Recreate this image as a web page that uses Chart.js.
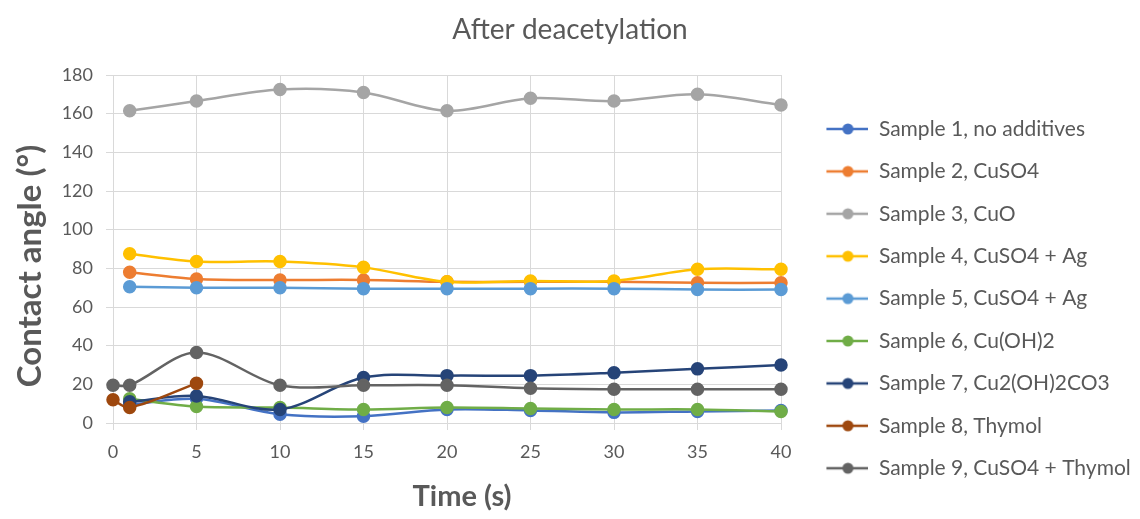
<!DOCTYPE html>
<html>
<head>
<meta charset="utf-8">
<title>After deacetylation</title>
<script src="https://cdn.jsdelivr.net/npm/chart.js@4/dist/chart.umd.min.js"></script>
<style>
  html, body { margin: 0; padding: 0; background: #fff; }
  #wrap { width: 1140px; height: 519px; position: relative; }
</style>
</head>
<body>
<div id="wrap"><canvas id="angleChart"></canvas></div>
<script>
// time points (s)
var times = [1, 5, 10, 15, 20, 25, 30, 35, 40];
var times8 = [0, 1, 5];
var times9 = [0, 1, 5, 10, 15, 20, 25, 30, 35, 40];

var sampleNames = [
    "Sample 1, no additives",
    "Sample 2, CuSO4",
    "Sample 3, CuO",
    "Sample 4, CuSO4 + Ag",
    "Sample 5, CuSO4 + Ag",
    "Sample 6, Cu(OH)2",
    "Sample 7, Cu2(OH)2CO3",
    "Sample 8, Thymol",
    "Sample 9, CuSO4 + Thymol"
];

// contact angle (deg)
var sample1 = [9.5, 12.5, 4.5, 3.5, 7, 6.5, 5.5, 6, 6.5];
var sample2 = [78, 74.5, 74, 74, 73, 73, 73, 72.5, 72.5];
var sample3 = [161.5, 166.5, 172.5, 171, 161.5, 168, 166.5, 170, 164.5];
var sample4 = [87.5, 83.5, 83.5, 80.5, 73, 73.5, 73.5, 79.5, 79.5];
var sample5 = [70.5, 70, 70, 69.5, 69.5, 69.5, 69.5, 69, 69];
var sample6 = [12.5, 8.5, 8, 7, 8, 7.5, 7, 7, 6];
var sample7 = [11, 14, 7, 23.5, 24.5, 24.5, 26, 28, 30];
var sample8 = [12, 8, 20.5];
var sample9 = [19.5, 19.5, 36.5, 19.5, 19.5, 19.5, 18, 17.5, 17.5, 17.5];

var colors = ["#4472C4", "#ED7D31", "#A5A5A5", "#FFC000", "#5B9BD5",
              "#70AD47", "#264478", "#9E480E", "#636363"];

var seriesValues = [sample1, sample2, sample3, sample4, sample5, sample6, sample7, sample8, sample9];
var seriesTimes = [times, times, times, times, times, times, times, times8, times9];

var xTitle = 'Time (s)';
var yTitle = 'Contact angle (°)';

var textColor = "#595959";
var gridColor = "#d9d9d9";

function toPoints(xs, ys) {
    var pts = [];
    for (var i = 0; i < ys.length; i++) {
        pts.push({x: xs[i], y: ys[i]});
    }
    return pts;
}

// little line + marker symbol for the legend
function makeLegendIcon(color) {
    var c = document.createElement('canvas');
    c.width = 66;
    c.height = 14;
    var g = c.getContext('2d');
    g.strokeStyle = color;
    g.lineWidth = 2.5;
    g.beginPath();
    g.moveTo(24, 7);
    g.lineTo(66, 7);
    g.stroke();
    g.fillStyle = color;
    g.beginPath();
    g.arc(45.5, 7, 5.5, 0, Math.PI * 2);
    g.fill();
    return c;
}

var legendIcons = colors.map(makeLegendIcon);

// axis titles sit a bit off the plot centre in the original, so draw them here
var axisTitles = {
    id: 'axisTitles',
    afterDraw: function (chart) {
        var a = chart.chartArea;
        var c = chart.ctx;
        c.save();
        c.fillStyle = textColor;
        c.textAlign = 'center';
        c.textBaseline = 'middle';
        c.font = "bold 33px Lato, 'Open Sans', sans-serif";
        c.translate(30, (a.top + a.bottom) / 2 + 17);
        c.rotate(-Math.PI / 2);
        c.fillText(yTitle, 0, 0);
        c.restore();

        c.save();
        c.fillStyle = textColor;
        c.textAlign = 'center';
        c.textBaseline = 'middle';
        c.font = "bold 29px Lato, 'Open Sans', sans-serif";
        c.fillText(xTitle, (a.left + a.right) / 2 + 15, 497);
        c.restore();
    }
};

var datasets = [];
seriesValues.forEach(function (vals, i) {
    datasets.push({
        label: sampleNames[i],
        data: toPoints(seriesTimes[i], vals),
        borderColor: colors[i],
        backgroundColor: colors[i],
        pointBackgroundColor: colors[i],
        pointBorderColor: colors[i],
        borderWidth: 2.5,
        pointRadius: 5.5,
        pointHoverRadius: 5.5,
        tension: 0.33,
        clip: false,
        order: 9 - i
    });
});

Chart.defaults.font.family = "Lato, 'Open Sans', sans-serif";
Chart.defaults.color = textColor;

var ctx = document.getElementById('angleChart').getContext('2d');

var angleChart = new Chart(ctx, {
    type: 'line',
    data: { datasets: datasets },
    plugins: [axisTitles],
    options: {
        responsive: true,
        maintainAspectRatio: false,
        animation: false,
        layout: { padding: 0 },
        plugins: {
            title: {
                display: true,
                text: 'After deacetylation',
                color: textColor,
                font: { size: 28, weight: 'normal' },
                padding: { top: 13, bottom: 28.4 }
            },
            legend: {
                position: 'right',
                align: 'start',
                maxWidth: 359,
                title: {
                    display: true,
                    text: ' ',
                    font: { size: 12 },
                    padding: { top: 82.7, bottom: 0 }
                },
                labels: {
                    usePointStyle: true,
                    pointStyleWidth: 66,
                    padding: 21.4,
                    color: textColor,
                    font: { size: 21 },
                    sort: function (a, b) { return a.datasetIndex - b.datasetIndex; },
                    generateLabels: function (chart) {
                        var items = Chart.defaults.plugins.legend.labels.generateLabels(chart);
                        items.forEach(function (it) {
                            it.pointStyle = legendIcons[it.datasetIndex];
                        });
                        return items;
                    }
                }
            },
            tooltip: { enabled: false }
        },
        scales: {
            x: {
                type: 'linear',
                min: 0,
                max: 40,
                ticks: { stepSize: 5, padding: 11, color: textColor, font: { size: 18 } },
                grid: { color: gridColor, tickLength: 7, lineWidth: 1 },
                border: { color: gridColor },
                afterFit: function (scale) { scale.height = 96; }
            },
            y: {
                min: 0,
                max: 180,
                ticks: { stepSize: 20, padding: 13, color: textColor, font: { size: 18 } },
                grid: { color: gridColor, tickLength: 7, lineWidth: 1 },
                border: { color: gridColor },
                afterFit: function (scale) { scale.width = 113; }
            }
        }
    }
});
</script>
</body>
</html>
